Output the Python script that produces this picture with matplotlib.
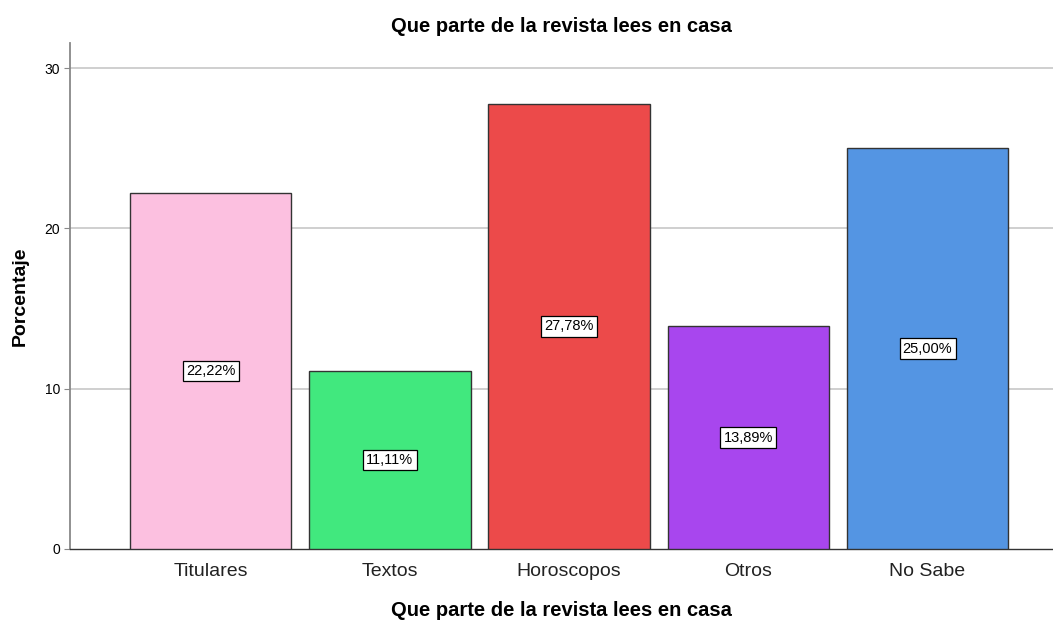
import matplotlib
matplotlib.use("Agg")
import matplotlib.pyplot as plt

plt.rcParams['font.family'] = ['Liberation Sans', 'DejaVu Sans']

categories = ['Titulares', 'Textos', 'Horoscopos', 'Otros', 'No Sabe']
percentages = [22.22, 11.11, 27.78, 13.89, 25.00]
colors = ['#fcc0e0', '#41e87e', '#ec4a4a', '#a846ee', '#5495e3']

fig = plt.figure(figsize=(10.53, 6.2), dpi=100)
ax = fig.add_axes([70 / 1053, 1 - 549 / 620, 1 - 70 / 1053, (549 - 43) / 620])

x = range(len(categories))
ax.bar(x, percentages, width=0.9, color=colors, edgecolor='#333333', linewidth=1.0, zorder=3)

# value labels in the middle of each bar
for i, v in enumerate(percentages):
    label = f"{v:.2f}%".replace('.', ',')
    ax.text(i, v / 2, label, ha='center', va='center', fontsize=10.5, zorder=4,
            bbox=dict(boxstyle='square,pad=0.22', facecolor='white', edgecolor='black', linewidth=0.9))

ax.set_xlim(-0.785, 4.70)
ax.set_ylim(0, 31.56)
ax.set_yticks([0, 10, 20, 30])
ax.set_xticks(list(x))
ax.set_xticklabels(categories, fontsize=14, color='#222222')
ax.tick_params(axis='x', length=0, pad=10)
ax.tick_params(axis='y', labelsize=10, length=4, color='#888888', pad=3)

for yv in [10, 20, 30]:
    ax.axhline(yv, color='#cccccc', linewidth=1.3, zorder=1)

ax.spines['top'].set_visible(False)
ax.spines['right'].set_visible(False)
ax.spines['left'].set_color('#888888')
ax.spines['left'].set_linewidth(1.3)
ax.spines['bottom'].set_color('#333333')
ax.spines['bottom'].set_linewidth(1.0)

ax.set_title('Que parte de la revista lees en casa', fontsize=14.5, fontweight='bold',
             y=1 + 16 / 506, va='center', pad=0)
ax.set_xlabel('Que parte de la revista lees en casa', fontsize=14.5, fontweight='bold', va='center')
ax.xaxis.set_label_coords(0.5, -62 / 506)
ax.set_ylabel('Porcentaje', fontsize=14, fontweight='bold', va='center')
ax.yaxis.set_label_coords(-50 / 983, 0.5)

fig.savefig('out.png', dpi=100)
